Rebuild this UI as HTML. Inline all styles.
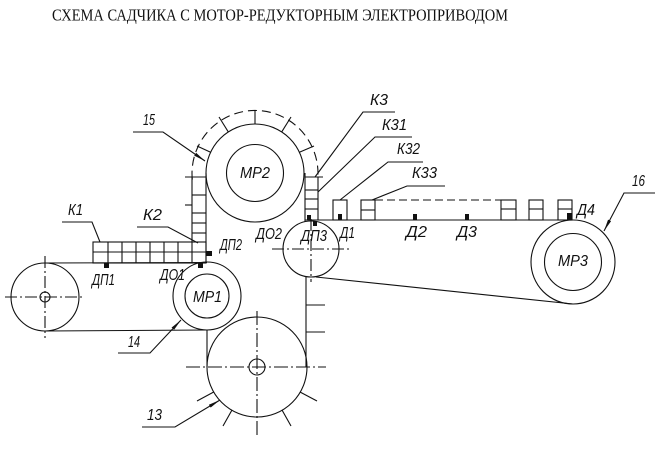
<!DOCTYPE html>
<html><head><meta charset="utf-8"><style>
html,body{margin:0;padding:0;background:#fff;}
svg{display:block}
.l{font-family:"Liberation Sans","DejaVu Sans",sans-serif;font-style:italic;font-size:15.5px;fill:#111;}
</style></head><body>
<svg width="660" height="449" viewBox="0 0 660 449" xmlns="http://www.w3.org/2000/svg">
<defs>
<marker id="a" markerWidth="12" markerHeight="6" refX="12" refY="3" orient="auto" markerUnits="userSpaceOnUse"><path d="M0,1.3 L12,3 L0,4.7z" fill="#111"/></marker>
</defs>
<text x="52" y="20.5" style="font-family:'Liberation Serif',serif;font-size:16.5px;fill:#111" textLength="456" lengthAdjust="spacingAndGlyphs">СХЕМА САДЧИКА С МОТОР-РЕДУКТОРНЫМ ЭЛЕКТРОПРИВОДОМ</text>
<g fill="none" stroke="#111" stroke-width="1.1">
 <!-- left pulley -->
 <circle cx="45" cy="297" r="34"/>
 <circle cx="45" cy="297" r="5"/>
 <line x1="5" y1="297" x2="85" y2="297" stroke-dasharray="12 3 2 3"/>
 <line x1="45" y1="256" x2="45" y2="338" stroke-dasharray="12 3 2 3"/>
 <!-- belt 14 -->
 <line x1="45" y1="263" x2="207" y2="262.5"/>
 <line x1="45" y1="331" x2="207" y2="330"/>
 <!-- MR1 -->
 <circle cx="207" cy="296" r="34"/>
 <circle cx="207" cy="296" r="22"/>
 <!-- verticals of big belt -->
 <line x1="206" y1="173" x2="206" y2="263"/>
 <line x1="207" y1="330" x2="207" y2="367"/>
 <line x1="306" y1="277" x2="306" y2="367"/>
 <line x1="305" y1="173" x2="305" y2="222"/>
 <line x1="306" y1="305" x2="325" y2="305"/>
 <line x1="306" y1="332" x2="325" y2="332"/>
 <!-- circle 13 -->
 <circle cx="257" cy="367" r="50"/>
 <circle cx="257" cy="367" r="8"/>
 <line x1="186" y1="367" x2="326" y2="367" stroke-dasharray="14 3 2 3"/>
 <line x1="257" y1="311" x2="257" y2="438" stroke-dasharray="14 3 2 3"/>
 <line x1="213.7" y1="392" x2="197" y2="401"/>
 <line x1="232" y1="410" x2="223" y2="426"/>
 <line x1="282" y1="410" x2="291" y2="426"/>
 <line x1="300" y1="392" x2="317" y2="401"/>
 <!-- MR2 -->
 <circle cx="255" cy="173" r="49"/>
 <circle cx="255" cy="173" r="28.5"/>
 <path d="M192.3,179.6 A63,63 0 1,1 317.7,179.6" stroke-dasharray="9 5"/>
 <line x1="255" y1="124" x2="255" y2="110"/>
 <line x1="228.3" y1="131.9" x2="219" y2="117"/>
 <line x1="281.7" y1="131.9" x2="291" y2="117"/>
 <line x1="299.4" y1="152.3" x2="314" y2="146"/>
 <line x1="210.6" y1="152.3" x2="197" y2="146"/>
 <!-- left stack (K2 vertical) -->
 <line x1="192" y1="177" x2="192" y2="242"/>
 <line x1="185" y1="177" x2="206" y2="177"/>
 <line x1="192" y1="195" x2="206" y2="195"/>
 <line x1="185" y1="205" x2="192" y2="205"/>
 <line x1="192" y1="213" x2="206" y2="213"/>
 <line x1="192" y1="223" x2="206" y2="223"/>
 <line x1="192" y1="233" x2="206" y2="233"/>
 <!-- K1 grid -->
 <rect x="93" y="242" width="113" height="21"/>
 <line x1="93" y1="252" x2="206" y2="252"/>
 <line x1="108" y1="242" x2="108" y2="263"/>
 <line x1="122" y1="242" x2="122" y2="263"/>
 <line x1="136" y1="242" x2="136" y2="263"/>
 <line x1="150" y1="242" x2="150" y2="263"/>
 <line x1="164" y1="242" x2="164" y2="263"/>
 <line x1="178" y1="242" x2="178" y2="263"/>
 <line x1="192" y1="242" x2="192" y2="263"/>
 <!-- right stack K3 -->
 <line x1="318" y1="177" x2="318" y2="220"/>
 <line x1="305" y1="177" x2="323" y2="177"/>
 <line x1="305" y1="190" x2="318" y2="190"/>
 <line x1="305" y1="199" x2="318" y2="199"/>
 <line x1="305" y1="209" x2="318" y2="209"/>
 <!-- DP3 pulley -->
 <circle cx="311" cy="249" r="28"/>
 <line x1="272" y1="249" x2="350" y2="249" stroke-dasharray="12 3 2 3"/>
 <line x1="311" y1="219" x2="311" y2="282" stroke-dasharray="12 3 2 3"/>
 <!-- right conveyor -->
 <line x1="305" y1="220" x2="573" y2="220"/>
 <line x1="316" y1="277" x2="573" y2="304"/>
 <rect x="333" y="200" width="14" height="20"/>
 <rect x="361" y="200" width="14" height="20"/>
 <line x1="361" y1="210" x2="375" y2="210"/>
 <line x1="375" y1="200" x2="501" y2="200" stroke-dasharray="8 4"/>
 <rect x="501" y="200" width="15" height="20"/>
 <line x1="501" y1="209" x2="516" y2="209"/>
 <rect x="529" y="200" width="14" height="20"/>
 <line x1="529" y1="209" x2="543" y2="209"/>
 <rect x="558" y="200" width="14" height="20"/>
 <line x1="558" y1="209" x2="572" y2="209"/>
 <!-- MR3 -->
 <circle cx="573" cy="262" r="42"/>
 <circle cx="573" cy="262" r="28.5"/>
 <!-- leaders -->
 <polyline points="62,222 92,222 100,242"/>
 <polyline points="137,227 168,227 198,243"/>
 <polyline points="133,132 163,132 205,161" marker-end="url(#a)"/>
 <polyline points="118,353 150,353 181,320" marker-end="url(#a)"/>
 <polyline points="142,427 175,427 220,400" marker-end="url(#a)"/>
 <polyline points="655,193 624,193 604,231" marker-end="url(#a)"/>
 <polyline points="395,112 363,112 315,177"/>
 <polyline points="412,137 375,137 318,192"/>
 <polyline points="423,162 388,162 340,200"/>
 <polyline points="445,186 407,186 372,200"/>
</g>
<g fill="#111">
 <rect x="104" y="263" width="5" height="5"/>
 <rect x="198" y="263" width="5" height="5"/>
 <rect x="206" y="251" width="6" height="5"/>
 <rect x="307" y="215" width="4" height="5"/>
 <rect x="313" y="221" width="4" height="5"/>
 <rect x="338" y="214" width="4" height="6"/>
 <rect x="413" y="214" width="4" height="6"/>
 <rect x="465" y="214" width="4" height="6"/>
 <rect x="567" y="213" width="5" height="7"/>
</g>
<g class="l">
 <text class="l" x="68" y="215" textLength="15" lengthAdjust="spacingAndGlyphs">К1</text>
 <text class="l" x="143" y="220" textLength="19" lengthAdjust="spacingAndGlyphs">К2</text>
 <text class="l" x="143" y="125" textLength="12" lengthAdjust="spacingAndGlyphs">15</text>
 <text class="l" x="220" y="250" textLength="22" lengthAdjust="spacingAndGlyphs">ДП2</text>
 <text class="l" x="160" y="280" textLength="25" lengthAdjust="spacingAndGlyphs">ДО1</text>
 <text class="l" x="92" y="285" textLength="23" lengthAdjust="spacingAndGlyphs">ДП1</text>
 <text class="l" x="256" y="239" textLength="26" lengthAdjust="spacingAndGlyphs">ДО2</text>
 <text class="l" x="301" y="241" textLength="26" lengthAdjust="spacingAndGlyphs">ДП3</text>
 <text class="l" x="340" y="238" textLength="15" lengthAdjust="spacingAndGlyphs">Д1</text>
 <text class="l" x="406" y="237" textLength="21" lengthAdjust="spacingAndGlyphs">Д2</text>
 <text class="l" x="457" y="237" textLength="20" lengthAdjust="spacingAndGlyphs">Д3</text>
 <text class="l" x="577" y="215" textLength="18" lengthAdjust="spacingAndGlyphs">Д4</text>
 <text class="l" x="370" y="105" textLength="18" lengthAdjust="spacingAndGlyphs">К3</text>
 <text class="l" x="382" y="130" textLength="25" lengthAdjust="spacingAndGlyphs">К31</text>
 <text class="l" x="397" y="154" textLength="23" lengthAdjust="spacingAndGlyphs">К32</text>
 <text class="l" x="412" y="178" textLength="25" lengthAdjust="spacingAndGlyphs">К33</text>
 <text class="l" x="632" y="186" textLength="13" lengthAdjust="spacingAndGlyphs">16</text>
 <text class="l" x="128" y="347" textLength="12" lengthAdjust="spacingAndGlyphs">14</text>
 <text class="l" x="147" y="420" textLength="15" lengthAdjust="spacingAndGlyphs">13</text>
 <text class="l" x="240" y="178" textLength="30" lengthAdjust="spacingAndGlyphs">МР2</text>
 <text class="l" x="193" y="302" textLength="29" lengthAdjust="spacingAndGlyphs">МР1</text>
 <text class="l" x="558" y="266" textLength="30" lengthAdjust="spacingAndGlyphs">МР3</text>
</g>
</svg>
</body></html>
